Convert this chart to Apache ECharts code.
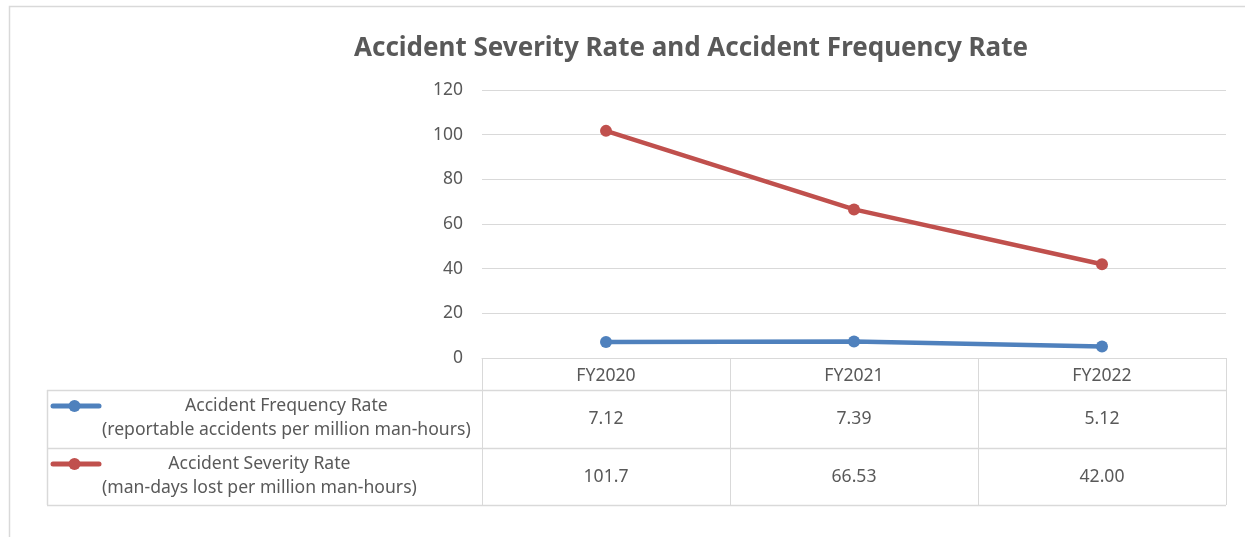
<!DOCTYPE html>
<html>
<head>
<meta charset="utf-8">
<script src="https://cdn.jsdelivr.net/npm/echarts@6/dist/echarts.min.js"></script>
<style>
  html, body { margin: 0; padding: 0; background: #fff; }
  #chart { width: 1245px; height: 537px; }
</style>
</head>
<body>
<div id="chart"></div>
<script>
// Fiscal years shown on the category axis and in the table header
const years = ['FY2020', 'FY2021', 'FY2022'];

// Accident frequency rate (reportable accidents per million man-hours)
const frequencyRate = [7.12, 7.39, 5.12];
const frequencyText = ['7.12', '7.39', '5.12'];

// Accident severity rate (man-days lost per million man-hours)
const severityRate = [101.7, 66.53, 42.00];
const severityText = ['101.7', '66.53', '42.00'];

// Series names and units for the table's legend column
const seriesNames = ['Accident Frequency Rate', 'Accident Severity Rate'];
const seriesUnits = ['(reportable accidents per million man-hours)', '(man-days lost per million man-hours)'];
const seriesColors = ['#4F81BD', '#C0504D'];

// Value axis ticks
const yMin = 0, yMax = 120, yStep = 20;

const FONT = '"Noto Sans", "Open Sans", sans-serif';
const TEXT = '#595959';
const RULE = '#d9d9d9';
const TABLE_FONT_SIZE = 17.6;

const chart = echarts.init(document.getElementById('chart'), null, { renderer: 'canvas' });

const grid = { left: 482, right: 19, top: 90, bottom: 179 };
const axisY = 537 - grid.bottom;    // y of the category axis line
const rowTops = [390, 448, 505];    // table row rules
const tableLeft = 47;
const tableRight = 1245 - grid.right;

function legendCell(i, yTop) {
  const cy = yTop + 16;
  return {
    type: 'group',
    children: [
      { type: 'line', shape: { x1: 53, y1: cy, x2: 99, y2: cy },
        style: { stroke: seriesColors[i], lineWidth: 5, lineCap: 'round' } },
      { type: 'circle', shape: { cx: 74.5, cy: cy, r: 6 },
        style: { fill: seriesColors[i] } },
      { type: 'text', x: 102, y: cy + 12,
        style: {
          text: '{a|' + seriesNames[i] + '}\n{a|' + seriesUnits[i] + '}',
          align: 'left', verticalAlign: 'middle',
          rich: { a: { align: 'center', fontFamily: FONT, fontSize: TABLE_FONT_SIZE, lineHeight: 24.5, fill: TEXT } }
        } }
    ]
  };
}

function valueAxis(texts, centerY) {
  return {
    type: 'category', data: years, position: 'bottom', gridIndex: 0,
    axisLine: { show: false }, axisTick: { show: false },
    axisLabel: {
      margin: centerY - axisY, verticalAlign: 'middle',
      color: TEXT, fontFamily: FONT, fontSize: TABLE_FONT_SIZE,
      formatter: (v, i) => texts[i]
    }
  };
}

const option = {
  backgroundColor: '#fff',
  animation: false,
  title: {
    text: 'Accident Severity Rate and Accident Frequency Rate',
    left: 686, top: 31, textAlign: 'center',
    textStyle: { fontFamily: FONT, fontWeight: 'bold', fontSize: 26, color: TEXT }
  },
  grid: grid,
  xAxis: [
    {
      type: 'category', data: years, position: 'bottom', boundaryGap: true,
      axisLine: { show: true, lineStyle: { color: RULE, width: 1 } },
      axisTick: { show: true, length: rowTops[2] - axisY, lineStyle: { color: RULE, width: 1 } },
      axisLabel: { margin: 17.5, verticalAlign: 'middle', color: TEXT, fontFamily: FONT, fontSize: TABLE_FONT_SIZE }
    },
    valueAxis(frequencyText, 418.5),
    valueAxis(severityText, 477)
  ],
  yAxis: {
    type: 'value', min: yMin, max: yMax, interval: yStep,
    axisLine: { show: false }, axisTick: { show: false },
    axisLabel: { margin: 19, color: TEXT, fontFamily: FONT, fontSize: 17.5 },
    splitLine: { lineStyle: { color: RULE, width: 1 } }
  },
  series: [
    {
      name: seriesNames[0], type: 'line', data: frequencyRate,
      symbol: 'circle', symbolSize: 12, color: seriesColors[0],
      lineStyle: { width: 4.5, color: seriesColors[0] }, itemStyle: { color: seriesColors[0] }
    },
    {
      name: seriesNames[1], type: 'line', data: severityRate,
      symbol: 'circle', symbolSize: 12, color: seriesColors[1],
      lineStyle: { width: 4.5, color: seriesColors[1] }, itemStyle: { color: seriesColors[1] }
    }
  ],
  graphic: [
    // outer chart frame
    { type: 'rect', shape: { x: 9.5, y: 6.5, width: 1300, height: 600 },
      style: { fill: 'none', stroke: RULE, lineWidth: 1.5 }, silent: true },
    // table rules
    ...rowTops.map(y => ({ type: 'line', shape: { x1: tableLeft, y1: y + 0.5, x2: tableRight, y2: y + 0.5 },
      style: { stroke: RULE, lineWidth: 1.5 }, silent: true })),
    { type: 'line', shape: { x1: tableLeft + 0.5, y1: rowTops[0], x2: tableLeft + 0.5, y2: rowTops[2] },
      style: { stroke: RULE, lineWidth: 1.5 }, silent: true },
    legendCell(0, rowTops[0]),
    legendCell(1, rowTops[1])
  ]
};

chart.setOption(option);
</script>
</body>
</html>
